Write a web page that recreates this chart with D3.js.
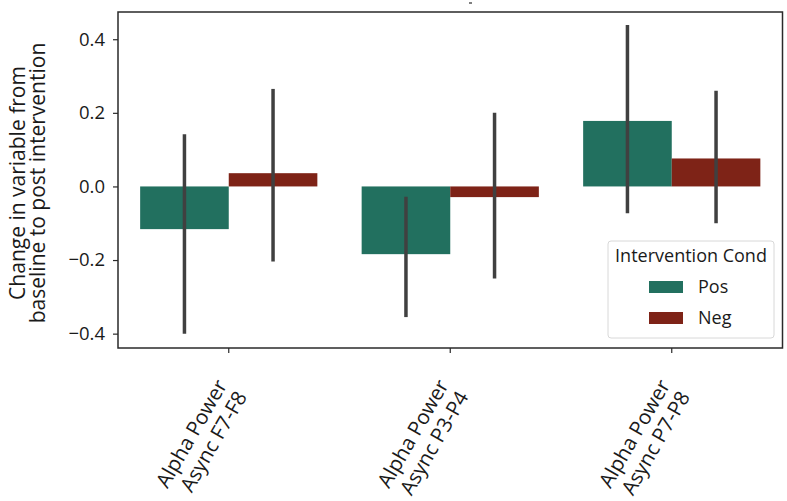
<!DOCTYPE html>
<html><head><meta charset="utf-8">
<script src="https://cdn.jsdelivr.net/npm/d3@7"></script>
<style>body{margin:0;background:#fff}text{font-family:"Open Sans",sans-serif;fill:#1a1a1a}</style>
</head><body><svg id="c" width="787" height="501"></svg>
<script>
const categories = [["Alpha Power","Async F7-F8"],["Alpha Power","Async P3-P4"],["Alpha Power","Async P7-P8"]];
const groups = ["Pos","Neg"];
const posValues = [-0.116, -0.184, 0.178];
const negValues = [0.036, -0.029, 0.076];
const posLow = [-0.40, -0.355, -0.073];
const posHigh = [0.142, -0.028, 0.439];
const negLow = [-0.204, -0.25, -0.10];
const negHigh = [0.265, 0.20, 0.26];
const yTicks = [-0.4, -0.2, 0.0, 0.2, 0.4];
const colors = {Pos:"#22705f", Neg:"#7e2317"};

const svg = d3.select("#c");
const L=118, R=782.5, T=12, B=348;
const catKeys = categories.map(c=>c.join(" "));
const x = d3.scaleBand().domain(catKeys).range([L,R]).paddingInner(0).paddingOuter(0);
const y = d3.scaleLinear().domain([-0.439,0.474]).range([B,T]);
const xh = d3.scaleBand().domain(groups).range([0, x.bandwidth()*0.8]);

const rows = [];
catKeys.forEach((k,i)=>{
  rows.push({cat:k,g:"Pos",v:posValues[i],lo:posLow[i],hi:posHigh[i]});
  rows.push({cat:k,g:"Neg",v:negValues[i],lo:negLow[i],hi:negHigh[i]});
});
const bx = d=> x(d.cat)+x.bandwidth()*0.1+xh(d.g);

svg.append("g").selectAll("rect").data(rows).join("rect")
  .attr("x",d=>bx(d)).attr("width",xh.bandwidth())
  .attr("y",d=>y(Math.max(0,d.v))).attr("height",d=>Math.abs(y(d.v)-y(0)))
  .attr("fill",d=>colors[d.g]);
svg.append("g").selectAll("line").data(rows).join("line")
  .attr("x1",d=>bx(d)+xh.bandwidth()/2).attr("x2",d=>bx(d)+xh.bandwidth()/2)
  .attr("y1",d=>y(d.lo)).attr("y2",d=>y(d.hi))
  .attr("stroke","#404040").attr("stroke-width",3.5);

// frame
svg.append("rect").attr("x",L).attr("y",T).attr("width",R-L).attr("height",B-T)
  .attr("fill","none").attr("stroke","#2a2a2a").attr("stroke-width",1.5);

// y axis
const ya = svg.append("g").attr("transform",`translate(${L},0)`)
  .call(d3.axisLeft(y).tickValues(yTicks).tickSize(5).tickPadding(8).tickFormat(d=>d3.format(".1f")(d).replace("-","−")));
ya.select(".domain").remove();
ya.selectAll("line").attr("stroke","#2a2a2a").attr("stroke-width",1.2);
ya.selectAll("text").style("font-family","'Open Sans',sans-serif").style("font-size","18.5px").attr("fill","#1a1a1a");

// x axis
const xa = svg.append("g").attr("transform",`translate(0,${B})`)
  .call(d3.axisBottom(x).tickSize(5).tickFormat(""));
xa.select(".domain").remove();
xa.selectAll("line").attr("stroke","#2a2a2a").attr("stroke-width",1.2);
categories.forEach((c,i)=>{
  const cx = x(catKeys[i])+x.bandwidth()/2;
  const t = svg.append("text").attr("text-anchor","end")
    .attr("transform",`translate(${cx-1},${B+37}) rotate(-60)`)
    .style("font-size","20.5px");
  c.forEach((s,j)=>t.append("tspan").attr("x",0).attr("dy",j?23:0).text(s));
});

// y label
const yl = svg.append("text").attr("text-anchor","middle")
  .attr("transform",`translate(25,${(T+B)/2+3}) rotate(-90)`).style("font-size","21px");
yl.append("tspan").attr("x",0).attr("dy",0).text("Change in variable from");
yl.append("tspan").attr("x",0).attr("dy",20).text("baseline to post intervention");

// legend
const lg = svg.append("g");
lg.append("rect").attr("x",608).attr("y",241).attr("width",166).attr("height",97).attr("rx",3)
  .attr("fill","#fff").attr("fill-opacity",0.85).attr("stroke","#d8d8d8");
lg.append("text").attr("x",691).attr("y",262).attr("text-anchor","middle").style("font-size","18px").text("Intervention Cond");
groups.forEach((g,i)=>{
  lg.append("rect").attr("x",649).attr("y",281+i*31).attr("width",34).attr("height",12).attr("fill",colors[g]);
  lg.append("text").attr("x",698).attr("y",293+i*31).style("font-size","18px").text(g);
});
// tiny artifact at top
svg.append("line").attr("x1",469).attr("x2",472).attr("y1",3).attr("y2",3).attr("stroke","#555").attr("stroke-width",1.5);
</script></body></html>
